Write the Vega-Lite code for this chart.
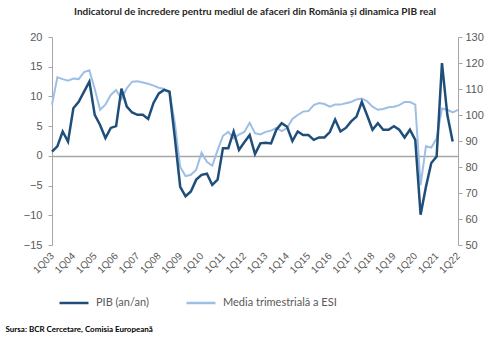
{
  "$schema": "https://vega.github.io/schema/vega-lite/v6.json",
  "width": 406,
  "height": 208,
  "autosize": "none",
  "padding": {"left": 52, "top": 37, "right": 42, "bottom": 98},
  "background": "white",
  "title": {
    "text": "Indicatorul de încredere pentru mediul de afaceri din România și dinamica PIB real",
    "font": "Lato",
    "fontSize": 10,
    "fontWeight": "bold",
    "color": "#262626",
    "anchor": "middle",
    "offset": 14
  },
  "data": {
    "values": [
      {"q": "1Q03", "pib": 0.7, "esi": 104},
      {"q": "2Q03", "pib": 1.6, "esi": 114.5},
      {"q": "3Q03", "pib": 4.1, "esi": 113.8},
      {"q": "4Q03", "pib": 2.4, "esi": 113.2},
      {"q": "1Q04", "pib": 8.0, "esi": 114},
      {"q": "2Q04", "pib": 9.1, "esi": 113.8},
      {"q": "3Q04", "pib": 10.8, "esi": 116.5},
      {"q": "4Q04", "pib": 12.5, "esi": 117.2},
      {"q": "1Q05", "pib": 6.9, "esi": 110},
      {"q": "2Q05", "pib": 5.2, "esi": 102},
      {"q": "3Q05", "pib": 3.0, "esi": 104},
      {"q": "4Q05", "pib": 4.7, "esi": 107.7},
      {"q": "1Q06", "pib": 5.0, "esi": 109.6},
      {"q": "2Q06", "pib": 11.3, "esi": 106.2},
      {"q": "3Q06", "pib": 8.3, "esi": 110.3},
      {"q": "4Q06", "pib": 7.3, "esi": 112.8},
      {"q": "1Q07", "pib": 6.9, "esi": 113},
      {"q": "2Q07", "pib": 6.9, "esi": 112.5},
      {"q": "3Q07", "pib": 6.2, "esi": 112},
      {"q": "4Q07", "pib": 8.9, "esi": 111.3},
      {"q": "1Q08", "pib": 10.5, "esi": 110.5},
      {"q": "2Q08", "pib": 11.1, "esi": 110},
      {"q": "3Q08", "pib": 10.8, "esi": 108.5},
      {"q": "4Q08", "pib": 3.0, "esi": 97},
      {"q": "1Q09", "pib": -5.2, "esi": 80},
      {"q": "2Q09", "pib": -6.8, "esi": 76.5},
      {"q": "3Q09", "pib": -6.0, "esi": 77},
      {"q": "4Q09", "pib": -4.0, "esi": 79},
      {"q": "1Q10", "pib": -3.2, "esi": 85.5},
      {"q": "2Q10", "pib": -3.0, "esi": 82},
      {"q": "3Q10", "pib": -4.9, "esi": 80.5},
      {"q": "4Q10", "pib": -4.0, "esi": 86.5},
      {"q": "1Q11", "pib": 1.3, "esi": 92},
      {"q": "2Q11", "pib": 1.3, "esi": 93.5},
      {"q": "3Q11", "pib": 4.1, "esi": 91},
      {"q": "4Q11", "pib": 1.0, "esi": 92.5},
      {"q": "1Q12", "pib": 2.3, "esi": 93.5},
      {"q": "2Q12", "pib": 3.5, "esi": 97},
      {"q": "3Q12", "pib": 0.3, "esi": 93},
      {"q": "4Q12", "pib": 2.1, "esi": 92.5},
      {"q": "1Q13", "pib": 2.2, "esi": 93.5},
      {"q": "2Q13", "pib": 2.1, "esi": 94},
      {"q": "3Q13", "pib": 4.4, "esi": 95},
      {"q": "4Q13", "pib": 5.5, "esi": 93.8},
      {"q": "1Q14", "pib": 4.9, "esi": 95},
      {"q": "2Q14", "pib": 2.5, "esi": 98.5},
      {"q": "3Q14", "pib": 4.1, "esi": 100},
      {"q": "4Q14", "pib": 3.5, "esi": 101.3},
      {"q": "1Q15", "pib": 3.5, "esi": 101.5},
      {"q": "2Q15", "pib": 2.7, "esi": 103.8},
      {"q": "3Q15", "pib": 3.1, "esi": 104.6},
      {"q": "4Q15", "pib": 3.1, "esi": 104.2},
      {"q": "1Q16", "pib": 4.0, "esi": 103.2},
      {"q": "2Q16", "pib": 6.1, "esi": 104},
      {"q": "3Q16", "pib": 4.1, "esi": 104},
      {"q": "4Q16", "pib": 4.7, "esi": 104.5},
      {"q": "1Q17", "pib": 5.8, "esi": 105},
      {"q": "2Q17", "pib": 6.6, "esi": 106},
      {"q": "3Q17", "pib": 9.1, "esi": 106.3},
      {"q": "4Q17", "pib": 6.8, "esi": 105.3},
      {"q": "1Q18", "pib": 4.4, "esi": 103.2},
      {"q": "2Q18", "pib": 5.5, "esi": 102},
      {"q": "3Q18", "pib": 4.4, "esi": 102.3},
      {"q": "4Q18", "pib": 4.4, "esi": 103},
      {"q": "1Q19", "pib": 5.0, "esi": 103.2},
      {"q": "2Q19", "pib": 4.4, "esi": 103.8},
      {"q": "3Q19", "pib": 3.1, "esi": 105},
      {"q": "4Q19", "pib": 4.4, "esi": 105},
      {"q": "1Q20", "pib": 2.7, "esi": 104},
      {"q": "2Q20", "pib": -9.9, "esi": 73},
      {"q": "3Q20", "pib": -5.2, "esi": 88},
      {"q": "4Q20", "pib": -1.2, "esi": 87.5},
      {"q": "1Q21", "pib": -0.1, "esi": 91},
      {"q": "2Q21", "pib": 15.6, "esi": 102.5},
      {"q": "3Q21", "pib": 6.9, "esi": 102},
      {"q": "4Q21", "pib": 2.4, "esi": 101},
      {"q": "1Q22", "pib": null, "esi": 102}
    ]
  },
  "encoding": {
    "x": {
      "field": "q",
      "type": "ordinal",
      "sort": null,
      "scale": {"type": "point", "padding": 0},
      "axis": {
        "title": "Sursa: BCR Cercetare, Comisia Europeană",
        "titleFont": "Lato",
        "titleFontSize": 8,
        "titleFontWeight": "bold",
        "titleColor": "#000000",
        "titleAlign": "left",
        "titleBaseline": "middle",
        "titleAnchor": "start",
        "titleX": -47,
        "titleY": 84,
        "labelExpr": "indexof(datum.value, '1Q') == 0 ? datum.value : ''",
        "labelAngle": -45,
        "labelAlign": "right",
        "labelBaseline": "middle",
        "labelOverlap": false,
        "labelPadding": 9,
        "labelFont": "Liberation Sans",
        "labelFontSize": 10,
        "labelColor": "#595959",
        "ticks": false,
        "domain": false,
        "grid": false
      }
    }
  },
  "layer": [
    {
      "mark": {"type": "line", "strokeWidth": 2},
      "encoding": {
        "y": {
          "field": "esi",
          "type": "quantitative",
          "scale": {"domain": [50, 130], "zero": false, "nice": false},
          "axis": {
            "orient": "right",
            "title": null,
            "values": [50, 60, 70, 80, 90, 100, 110, 120, 130],
            "labelFont": "Liberation Sans",
            "labelFontSize": 11,
            "labelColor": "#595959",
            "labelPadding": 3,
            "tickSize": 4,
            "tickColor": "#a6a6a6",
            "domainColor": "#a6a6a6",
            "grid": false
          }
        },
        "color": {"datum": "Media trimestrială a ESI"}
      }
    },
    {
      "mark": {"type": "line", "strokeWidth": 2.5},
      "encoding": {
        "y": {
          "field": "pib",
          "type": "quantitative",
          "scale": {"domain": [-15, 20], "nice": false},
          "axis": {
            "orient": "left",
            "title": null,
            "values": [-15, -10, -5, 0, 5, 10, 15, 20],
            "labelFont": "Liberation Sans",
            "labelFontSize": 11,
            "labelColor": "#595959",
            "labelPadding": 6,
            "tickSize": 4,
            "tickColor": "#a6a6a6",
            "domainColor": "#a6a6a6",
            "grid": true,
            "gridColor": "#a6a6a6",
            "gridWidth": 1.5,
            "gridOpacity": {"condition": {"test": "datum.value === 0", "value": 1}, "value": 0}
          }
        },
        "color": {
          "datum": "PIB (an/an)",
          "scale": {
            "domain": ["PIB (an/an)", "Media trimestrială a ESI"],
            "range": ["#1f4e79", "#9dbfe6"]
          },
          "legend": {
            "title": null,
            "orient": "none",
            "direction": "horizontal",
            "legendX": 6,
            "legendY": 250,
            "symbolType": "stroke",
            "symbolSize": 841,
            "symbolStrokeWidth": 2.5,
            "labelFont": "Lato",
            "labelFontSize": 11,
            "labelColor": "#595959",
            "labelOffset": 6,
            "columnPadding": 32
          }
        }
      }
    }
  ],
  "resolve": {"scale": {"y": "independent"}},
  "config": {"view": {"stroke": null}}
}
